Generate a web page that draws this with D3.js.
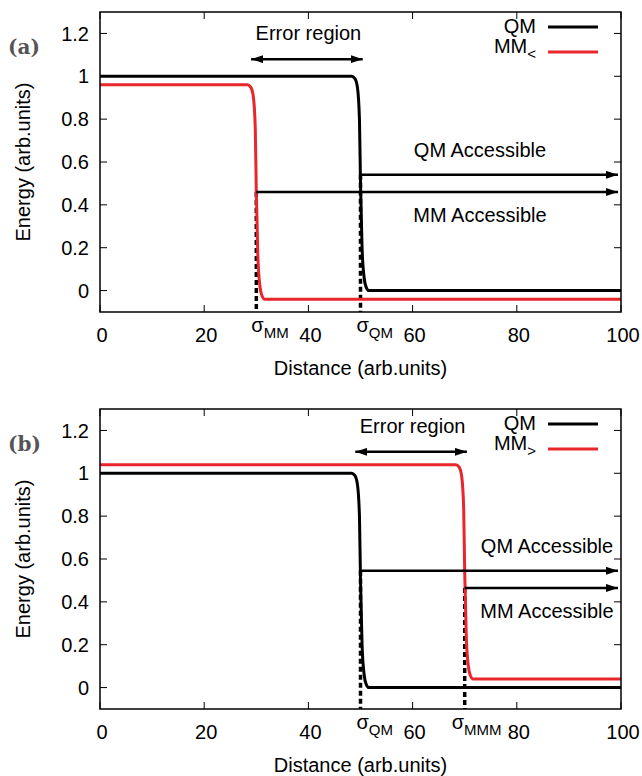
<!DOCTYPE html>
<html>
<head>
<meta charset="utf-8">
<script src="https://cdn.jsdelivr.net/npm/d3@7"></script>
<style>
  body { margin: 0; background: #fff; }
  text { font-family: "Liberation Sans", Arial, sans-serif; fill: #000; }
</style>
</head>
<body>
<div id="chart"></div>
<script>
  var xTicks = [0, 20, 40, 60, 80, 100];
  var yTicks = [0, 0.2, 0.4, 0.6, 0.8, 1, 1.2];

  // step curves (distance, energy)
  var qmX   = [0, 48.3, 48.9, 49.4, 49.8, 50, 50.3, 50.7, 51.1, 51.6, 100];
  var qmY   = [1, 1, 0.99, 0.95, 0.8, 0.5, 0.2, 0.06, 0.015, 0, 0];
  var mmLtX = [0, 28.3, 28.9, 29.4, 29.8, 30, 30.3, 30.7, 31.1, 31.6, 100];
  var mmLtY = [0.96, 0.96, 0.95, 0.91, 0.76, 0.46, 0.16, 0.02, -0.025, -0.04, -0.04];
  var mmGtX = [0, 68.3, 68.9, 69.4, 69.8, 70, 70.3, 70.7, 71.1, 71.6, 100];
  var mmGtY = [1.04, 1.04, 1.03, 0.99, 0.84, 0.54, 0.24, 0.1, 0.055, 0.04, 0.04];

  // annotations: [x1, x2, y]
  var errorA = [29, 51, 1.08];
  var qmAccA = [50, 100, 0.54];
  var mmAccA = [30, 100, 0.46];
  var errorB = [49, 71, 1.1];
  var qmAccB = [50, 100, 0.545];
  var mmAccB = [70, 100, 0.465];

  var W = 642, H = 776;
  var red = '#e8262c';

  function translate(x, y) { return 'translate(' + x + ',' + y + ')'; }
  function zip(xs, ys) { return xs.map(function(d, i) { return [d, ys[i]]; }); }

  var svg = d3.select('#chart').append('svg')
    .attr('width', W).attr('height', H);

  var defs = svg.append('defs');
  defs.append('marker')
    .attr('id', 'ahead')
    .attr('viewBox', '0 0 12 8')
    .attr('refX', 12).attr('refY', 4)
    .attr('markerWidth', 12).attr('markerHeight', 8)
    .attr('markerUnits', 'userSpaceOnUse')
    .attr('orient', 'auto-start-reverse')
    .append('path').attr('d', 'M0,0L12,4L0,8Z').attr('fill', '#000');

  var x = d3.scaleLinear().domain([0, 100]).range([100, 621]);

  function panel(cfg) {
    var y = d3.scaleLinear().domain([-0.1, 1.3]).range([cfg.bottom, cfg.top]);
    var g = svg.append('g');

    // ticks, mirrored on all sides, pointing inward
    yTicks.forEach(function(t) {
      g.append('line').attr('x1', x(0)).attr('x2', x(0) + 7).attr('y1', y(t)).attr('y2', y(t)).attr('stroke', '#000');
      g.append('line').attr('x1', x(100)).attr('x2', x(100) - 7).attr('y1', y(t)).attr('y2', y(t)).attr('stroke', '#000');
      g.append('text').attr('x', x(0) - 11).attr('y', y(t)).attr('dy', '0.36em')
        .attr('text-anchor', 'end').style('font-size', '20px')
        .text(d3.format('~g')(t));
    });
    xTicks.forEach(function(t) {
      g.append('line').attr('x1', x(t)).attr('x2', x(t)).attr('y1', cfg.bottom).attr('y2', cfg.bottom - 7).attr('stroke', '#000');
      g.append('line').attr('x1', x(t)).attr('x2', x(t)).attr('y1', cfg.top).attr('y2', cfg.top + 7).attr('stroke', '#000');
      g.append('text').attr('x', x(t) + 2).attr('y', cfg.bottom + 30)
        .attr('text-anchor', 'middle').style('font-size', '20px')
        .text(t);
    });

    var line = d3.line()
      .x(function(d) { return x(d[0]); })
      .y(function(d) { return y(d[1]); })
      .curve(d3.curveMonotoneX);

    // dotted drop lines
    cfg.drops.forEach(function(d) {
      g.append('line').attr('x1', x(d[0])).attr('x2', x(d[0]))
        .attr('y1', y(d[1])).attr('y2', cfg.bottom)
        .attr('stroke', '#000').attr('stroke-width', 3.5).attr('stroke-dasharray', '5,3');
    });

    g.append('path').datum(cfg.red).attr('d', line)
      .attr('fill', 'none').attr('stroke', red).attr('stroke-width', 3);
    g.append('path').datum(zip(qmX, qmY)).attr('d', line)
      .attr('fill', 'none').attr('stroke', '#000').attr('stroke-width', 3);

    // arrows
    function arrow(a, both) {
      var l = g.append('line').attr('x1', x(a[0])).attr('x2', x(a[1]) - 3)
        .attr('y1', y(a[2])).attr('y2', y(a[2]))
        .attr('stroke', '#000').attr('stroke-width', 2.5)
        .attr('marker-end', 'url(#ahead)');
      if (both) l.attr('marker-start', 'url(#ahead)');
    }
    arrow(cfg.error, true);
    arrow(cfg.qmAcc, false);
    arrow(cfg.mmAcc, false);

    g.append('text').attr('x', x((cfg.error[0] + cfg.error[1]) / 2)).attr('y', y(cfg.error[2]) - 19)
      .attr('text-anchor', 'middle').style('font-size', '20px').text('Error region');
    g.append('text').attr('x', cfg.accX).attr('y', y(cfg.qmAcc[2]) - 18)
      .attr('text-anchor', 'middle').style('font-size', '20px').text('QM Accessible');
    g.append('text').attr('x', cfg.accX).attr('y', y(cfg.mmAcc[2]) + 30)
      .attr('text-anchor', 'middle').style('font-size', '20px').text('MM Accessible');

    // frame
    g.append('rect').attr('x', x(0)).attr('y', cfg.top)
      .attr('width', x(100) - x(0)).attr('height', cfg.bottom - cfg.top)
      .attr('fill', 'none').attr('stroke', '#000').attr('stroke-width', 1.5);

    // legend
    g.append('text').attr('x', 536).attr('y', cfg.top + 21).attr('text-anchor', 'end')
      .style('font-size', '20px').text('QM');
    g.append('line').attr('x1', 548).attr('x2', 598).attr('y1', cfg.top + 15).attr('y2', cfg.top + 15)
      .attr('stroke', '#000').attr('stroke-width', 3);
    var lt = g.append('text').attr('x', 536).attr('y', cfg.top + 41).attr('text-anchor', 'end')
      .style('font-size', '20px').text('MM');
    lt.append('tspan').attr('dy', 6).style('font-size', '15px').text(cfg.sub);
    g.append('line').attr('x1', 548).attr('x2', 598).attr('y1', cfg.top + 40).attr('y2', cfg.top + 40)
      .attr('stroke', red).attr('stroke-width', 3);

    // sigma labels under the axis
    cfg.sigmas.forEach(function(s) {
      var t = g.append('text').attr('x', x(s[0]) + s[2]).attr('y', cfg.bottom + 20)
        .style('font-size', '20px').text('\u03c3');
      t.append('tspan').attr('dy', 6).style('font-size', '15px').text(s[1]);
    });

    // axis titles
    g.append('text').attr('x', (x(0) + x(100)) / 2).attr('y', cfg.bottom + 63)
      .attr('text-anchor', 'middle').style('font-size', '20px').text('Distance (arb.units)');
    g.append('text').attr('transform', translate(30, (cfg.top + cfg.bottom) / 2) + ' rotate(-90)')
      .attr('text-anchor', 'middle').style('font-size', '20px').text('Energy (arb.units)');

    g.append('text').attr('x', 8).attr('y', cfg.top + 42)
      .style('font-family', '"DejaVu Serif", "Liberation Serif", serif')
      .style('font-size', '20px').style('font-weight', 'bold').style('fill', '#555')
      .text(cfg.label);
  }

  panel({
    top: 12, bottom: 312, label: '(a)', sub: '<',
    red: zip(mmLtX, mmLtY),
    error: errorA, qmAcc: qmAccA, mmAcc: mmAccA, accX: 480,
    drops: [[30, 0.46], [50, 0.54]],
    sigmas: [[30, 'MM', -5], [50, 'QM', -4]]
  });
  panel({
    top: 409, bottom: 709, label: '(b)', sub: '>',
    red: zip(mmGtX, mmGtY),
    error: errorB, qmAcc: qmAccB, mmAcc: mmAccB, accX: 547,
    drops: [[50, 0.545], [70, 0.465]],
    sigmas: [[50, 'QM', -4], [70, 'MMM', -13]]
  });
</script>
</body>
</html>
